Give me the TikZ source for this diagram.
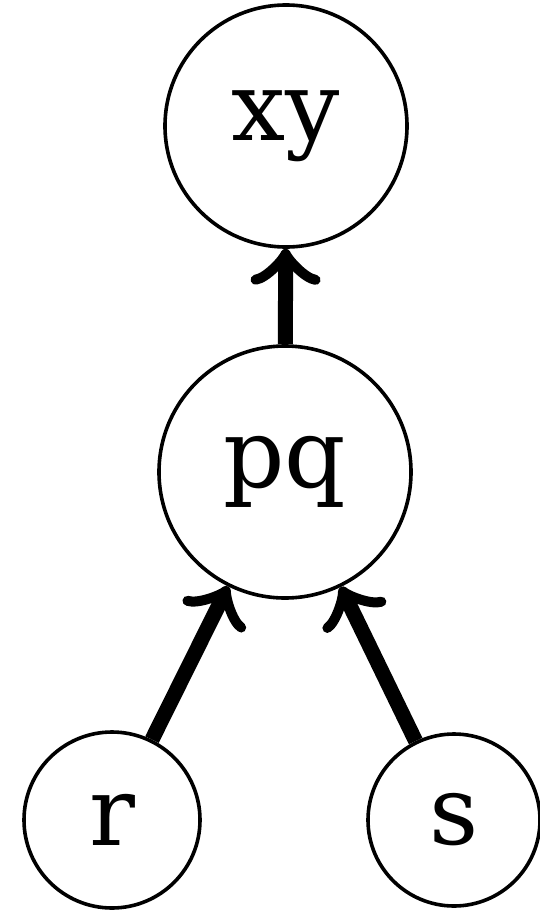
\documentclass[tikz,border=0pt]{standalone}
\usepackage{fontspec}
\setmainfont{DejaVu Serif}
\usetikzlibrary{arrows.meta}
\tikzset{
  vertex/.style={circle, draw=black, line width=3.6pt, inner sep=0pt,
    font=\fontsize{96}{96}\selectfont},
  edge/.style={line width=15pt,
    -{Classical TikZ Rightarrow[length=36pt, width=70pt, line width=10pt 0, round]}}
}
\begin{document}
\begin{tikzpicture}[x=1pt, y=-1pt]
  \useasboundingbox (0,0) rectangle (539,910);
  \node[vertex, minimum size=242pt] (xy) at (286,126) {xy};
  \node[vertex, minimum size=252pt] (pq) at (285,472) {pq};
  \node[vertex, minimum size=176pt] (r) at (112,820) {r};
  \node[vertex, minimum size=172pt] (s) at (454,820) {s};
  \draw[edge] (pq) -- (xy);
  \draw[edge] (r) -- (pq);
  \draw[edge] (s) -- (pq);
\end{tikzpicture}
\end{document}
